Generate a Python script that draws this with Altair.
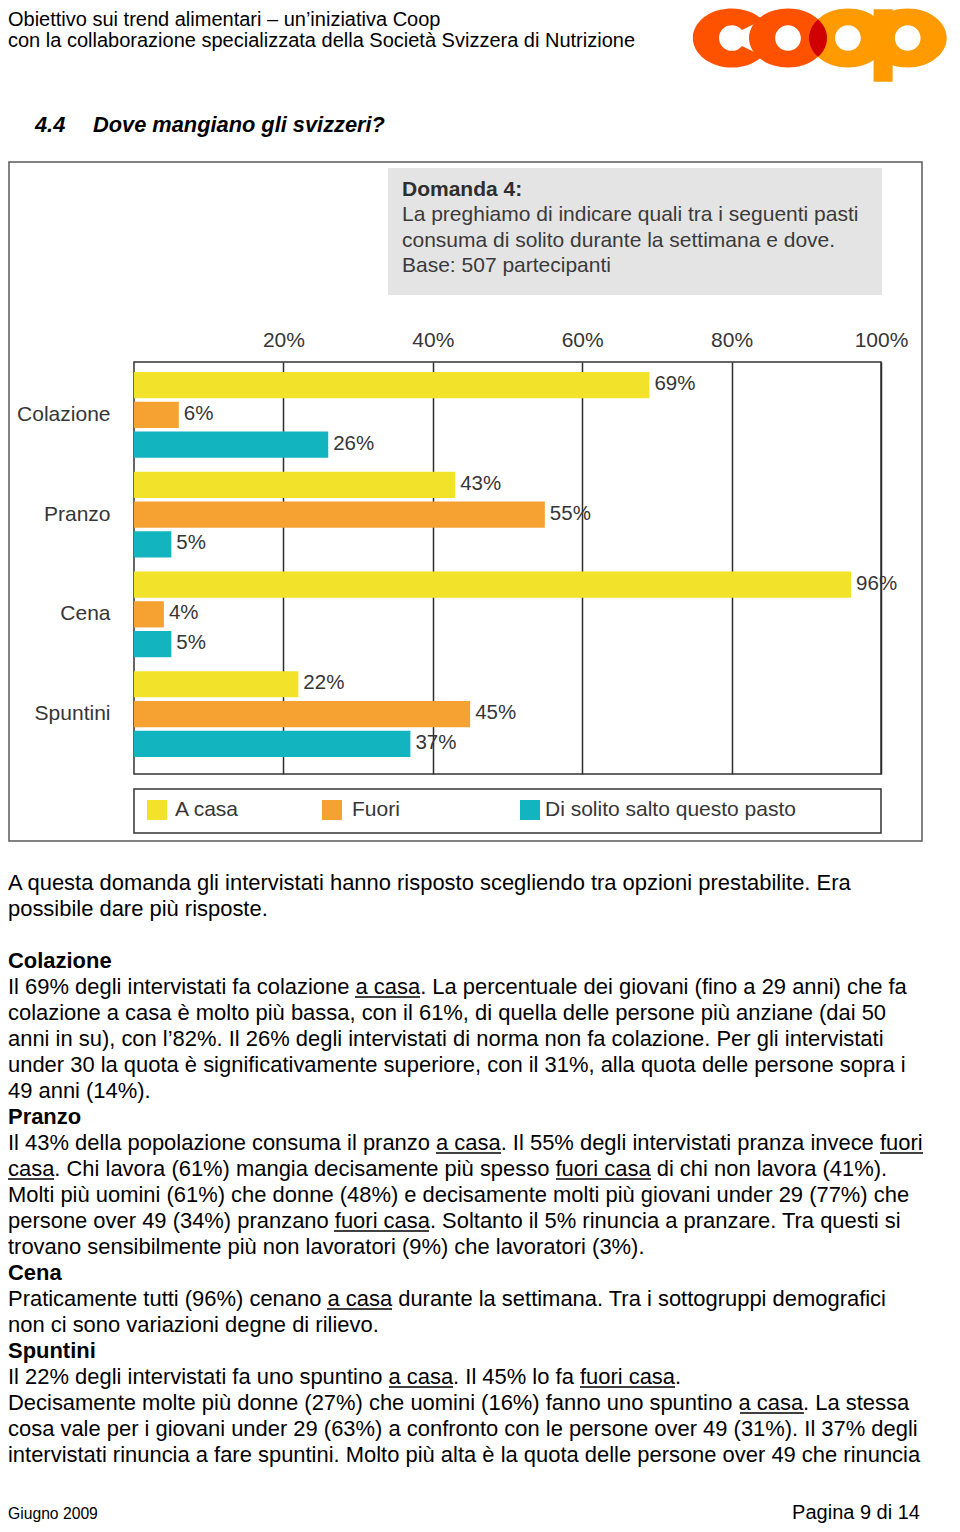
import math
import altair as alt
import pandas as pd

# ---------------- data ----------------
meals = ["Colazione", "Pranzo", "Cena", "Spuntini"]
series = ["A casa", "Fuori", "Di solito salto questo pasto"]
a_casa = [69, 43, 96, 22]
fuori = [6, 55, 4, 45]
salto = [26, 5, 5, 37]
colors = ["#F3E22A", "#F5A233", "#12B5BF"]
tick_values = [20, 40, 60, 80, 100]

rows = []
for i, m in enumerate(meals):
    for s, vals in zip(series, [a_casa, fuori, salto]):
        rows.append({"pasto": m, "serie": s, "valore": vals[i], "etichetta": f"{vals[i]}%"})
df = pd.DataFrame(rows)

header_lines = [
    "Obiettivo sui trend alimentari \u2013 un\u2019iniziativa Coop",
    "con la collaborazione specializzata della Società Svizzera di Nutrizione",
]
question_lines = [
    "La preghiamo di indicare quali tra i seguenti pasti",
    "consuma di solito durante la settimana e dove.",
    "Base: 507 partecipanti",
]
body = [
    ("n", "A questa domanda gli intervistati hanno risposto scegliendo tra opzioni prestabilite. Era"),
    ("n", "possibile dare più risposte."),
    ("n", ""),
    ("b", "Colazione"),
    ("n", "Il 69% degli intervistati fa colazione a casa. La percentuale dei giovani (fino a 29 anni) che fa"),
    ("n", "colazione a casa è molto più bassa, con il 61%, di quella delle persone più anziane (dai 50"),
    ("n", "anni in su), con l\u201982%. Il 26% degli intervistati di norma non fa colazione. Per gli intervistati"),
    ("n", "under 30 la quota è significativamente superiore, con il 31%, alla quota delle persone sopra i"),
    ("n", "49 anni (14%)."),
    ("b", "Pranzo"),
    ("n", "Il 43% della popolazione consuma il pranzo a casa. Il 55% degli intervistati pranza invece fuori"),
    ("n", "casa. Chi lavora (61%) mangia decisamente più spesso fuori casa di chi non lavora (41%)."),
    ("n", "Molti più uomini (61%) che donne (48%) e decisamente molti più giovani under 29 (77%) che"),
    ("n", "persone over 49 (34%) pranzano fuori casa. Soltanto il 5% rinuncia a pranzare. Tra questi si"),
    ("n", "trovano sensibilmente più non lavoratori (9%) che lavoratori (3%)."),
    ("b", "Cena"),
    ("n", "Praticamente tutti (96%) cenano a casa durante la settimana. Tra i sottogruppi demografici"),
    ("n", "non ci sono variazioni degne di rilievo."),
    ("b", "Spuntini"),
    ("n", "Il 22% degli intervistati fa uno spuntino a casa. Il 45% lo fa fuori casa."),
    ("n", "Decisamente molte più donne (27%) che uomini (16%) fanno uno spuntino a casa. La stessa"),
    ("n", "cosa vale per i giovani under 29 (63%) a confronto con le persone over 49 (31%). Il 37% degli"),
    ("n", "intervistati rinuncia a fare spuntini. Molto più alta è la quota delle persone over 49 che rinuncia"),
]
# underlined words: (line index, page x start, width)
underlines = [
    (4, 355, 65), (10, 436, 65), (10, 880, 43), (11, 8, 46), (11, 556, 95),
    (13, 334, 95), (16, 327, 65), (19, 389, 64), (19, 580, 95), (20, 740, 64),
]

# ---------------- layout ----------------
W, H = 747, 412
OX, OY = 134, 362          # page position of plot origin
FONT = "Liberation Sans"
CTXT = "#363636"
LEFT = 8                   # left text margin (page px)


def px(x):
    return x - OX


def py(y):
    return y - OY


one = pd.DataFrame({"k": [0]})


def text_layer(txt, x, y, size, weight="normal", style="normal", color="#000000",
               align="left", baseline="alphabetic"):
    return alt.Chart(one).mark_text(
        text=txt, align=align, baseline=baseline, fontSize=size, fontWeight=weight,
        fontStyle=style, color=color, font=FONT,
    ).encode(x=alt.value(px(x)), y=alt.value(py(y)))


def rect_layer(x1, y1, x2, y2, fill="white", stroke=None, sw=0, fill_opacity=1):
    kw = dict(fill=fill, fillOpacity=fill_opacity)
    if stroke:
        kw.update(stroke=stroke, strokeWidth=sw)
    return alt.Chart(one).mark_rect(**kw).encode(
        x=alt.value(px(x1)), x2=alt.value(px(x2)), y=alt.value(py(y1)), y2=alt.value(py(y2)))


# ---------------- bars ----------------
x_enc = alt.X("valore:Q", scale=alt.Scale(domain=[0, 100], nice=False),
              axis=alt.Axis(orient="top", values=tick_values, labelExpr="datum.value + '%'",
                            title=None, grid=True, gridColor="#2e2e2e", gridWidth=1.5,
                            ticks=False, domain=False, labelFontSize=21, labelFont=FONT,
                            labelColor=CTXT, labelPadding=12, labelFlush=False))
y_enc = alt.Y("pasto:N", sort=meals,
              scale=alt.Scale(paddingInner=0.14, paddingOuter=0.136, align=0.37),
              axis=alt.Axis(title=None, ticks=False, domain=False, labelPadding=24,
                            labelFontSize=21, labelFont=FONT, labelColor=CTXT))
yoff_enc = alt.YOffset("serie:N", sort=series, scale=alt.Scale(paddingInner=0.12, paddingOuter=0))

bars = alt.Chart(df).mark_bar().encode(
    x=x_enc, y=y_enc, yOffset=yoff_enc,
    color=alt.Color("serie:N", sort=series, scale=alt.Scale(domain=series, range=colors), legend=None),
)
labels = alt.Chart(df).mark_text(align="left", baseline="middle", dx=5, dy=-1, fontSize=20.5,
                                 font=FONT, color=CTXT).encode(
    x=alt.X("valore:Q"), y=alt.Y("pasto:N", sort=meals), yOffset=alt.YOffset("serie:N", sort=series),
    text="etichetta:N")

# ---------------- decorations ----------------
frame = rect_layer(9, 162, 922, 841, fill="white", stroke="#5a5a5a", sw=1.5, fill_opacity=0)
qbox = rect_layer(388, 168, 882, 295, fill="#E4E4E4")
legbox = rect_layer(134, 789, 881, 833, fill="white", stroke="#333333", sw=1.5)

# legend entries (swatch left x, label x)
legend_pos = [(147, 175), (322, 352), (520, 545)]
legend_layers = []
for (sx, tx), name, col in zip(legend_pos, series, colors):
    legend_layers.append(
        alt.Chart(one).mark_square(size=400, filled=True, color=col, opacity=1, strokeWidth=0)
        .encode(x=alt.value(px(sx + 10)), y=alt.value(py(810))))
    legend_layers.append(text_layer(name, tx, 810, 21, color=CTXT, baseline="middle"))

# logo (unit = U px, anchor = centre of first "o")
U = 39
LX, LY = 788, 38
size = (2 * U) ** 2
RY, RI = 0.756, 0.33


def ring(cx, rx=1.0, ry=RY, rxi=RI, ryi=RI):
    return (f"M{cx-rx},0 A{rx},{ry} 0 1 0 {cx+rx},0 A{rx},{ry} 0 1 0 {cx-rx},0 Z "
            f"M{cx-rxi},0 A{rxi},{ryi} 0 1 1 {cx+rxi},0 A{rxi},{ryi} 0 1 1 {cx-rxi},0 Z")


def c_shape(cx, rx=1.0, ry=RY, rxi=RI, ryi=RI, deg=38):
    a = math.radians(deg)
    ox1, oy1 = cx + rx * math.cos(a), ry * math.sin(a)
    ox2, oy2 = cx + rx * math.cos(-a), ry * math.sin(-a)
    ix1, iy1 = cx + rxi * math.cos(a), ryi * math.sin(a)
    ix2, iy2 = cx + rxi * math.cos(-a), ryi * math.sin(-a)
    return (f"M{ox1:.3f},{oy1:.3f} A{rx},{ry} 0 1 1 {ox2:.3f},{oy2:.3f} "
            f"L{ix2:.3f},{iy2:.3f} A{rxi},{ryi} 0 1 0 {ix1:.3f},{iy1:.3f} Z")


lens = "M0.7685,-0.4838 A1,0.756 0 0 1 0.7685,0.4838 A1,0.756 0 0 1 0.7685,-0.4838 Z"
stem = "M2.195,-0.74 L2.683,-0.74 L2.683,1.12 L2.195,1.12 Z"
logo_parts = [
    (c_shape(-1.439), "#FF5200"),
    (ring(0.0), "#FF5200"),
    (ring(1.537), "#FF9A00"),
    (ring(3.07), "#FF9A00"),
    (stem, "#FF9A00"),
    (lens, "#D00000"),
]
logo_layers = [
    alt.Chart(one).mark_point(shape=p, size=size, filled=True, fill=c, opacity=1,
                              strokeWidth=0).encode(x=alt.value(px(LX)), y=alt.value(py(LY)))
    for p, c in logo_parts
]

text_layers = [
    text_layer(header_lines[0], LEFT, 26, 20),
    text_layer(header_lines[1], LEFT, 47, 20),
    text_layer("4.4", 35, 131.5, 21.8, weight="bold", style="italic"),
    text_layer("Dove mangiano gli svizzeri?", 93, 131.5, 21.8, weight="bold", style="italic"),
    text_layer("Domanda 4:", 402, 195.5, 21, weight="bold", color="#2e2e2e"),
]
for i, line in enumerate(question_lines):
    text_layers.append(text_layer(line, 402, 221 + 25.5 * i, 21, color="#3a3a3a"))

BODY_Y0 = 890
BODY_SIZE = 21.95
for i, (kind, line) in enumerate(body):
    if line:
        text_layers.append(text_layer(line, LEFT, BODY_Y0 + 26 * i, BODY_SIZE,
                                      weight="bold" if kind == "b" else "normal"))

ul_layers = [
    alt.Chart(one).mark_rule(color="#000000", strokeWidth=1.3).encode(
        x=alt.value(px(x0)), x2=alt.value(px(x0 + w)),
        y=alt.value(py(BODY_Y0 + 26 * li + 3)))
    for li, x0, w in underlines
]

text_layers.append(text_layer("Giugno 2009", LEFT, 1519, 15.7))
text_layers.append(text_layer("Pagina 9 di 14", 920, 1519, 20, align="right"))

chart = alt.layer(
    frame, qbox, legbox, bars, labels, *legend_layers,
    *logo_layers, *text_layers, *ul_layers,
).properties(
    width=W, height=H,
    autosize=alt.AutoSizeParams(type="none"),
    padding={"left": OX - 8, "top": OY - 8, "right": 70, "bottom": 1516 - (OY - 8) - H},
).configure_view(stroke="#333333", strokeWidth=1.5)

chart.save("out.html", embed_options={"renderer": "svg", "actions": False})
